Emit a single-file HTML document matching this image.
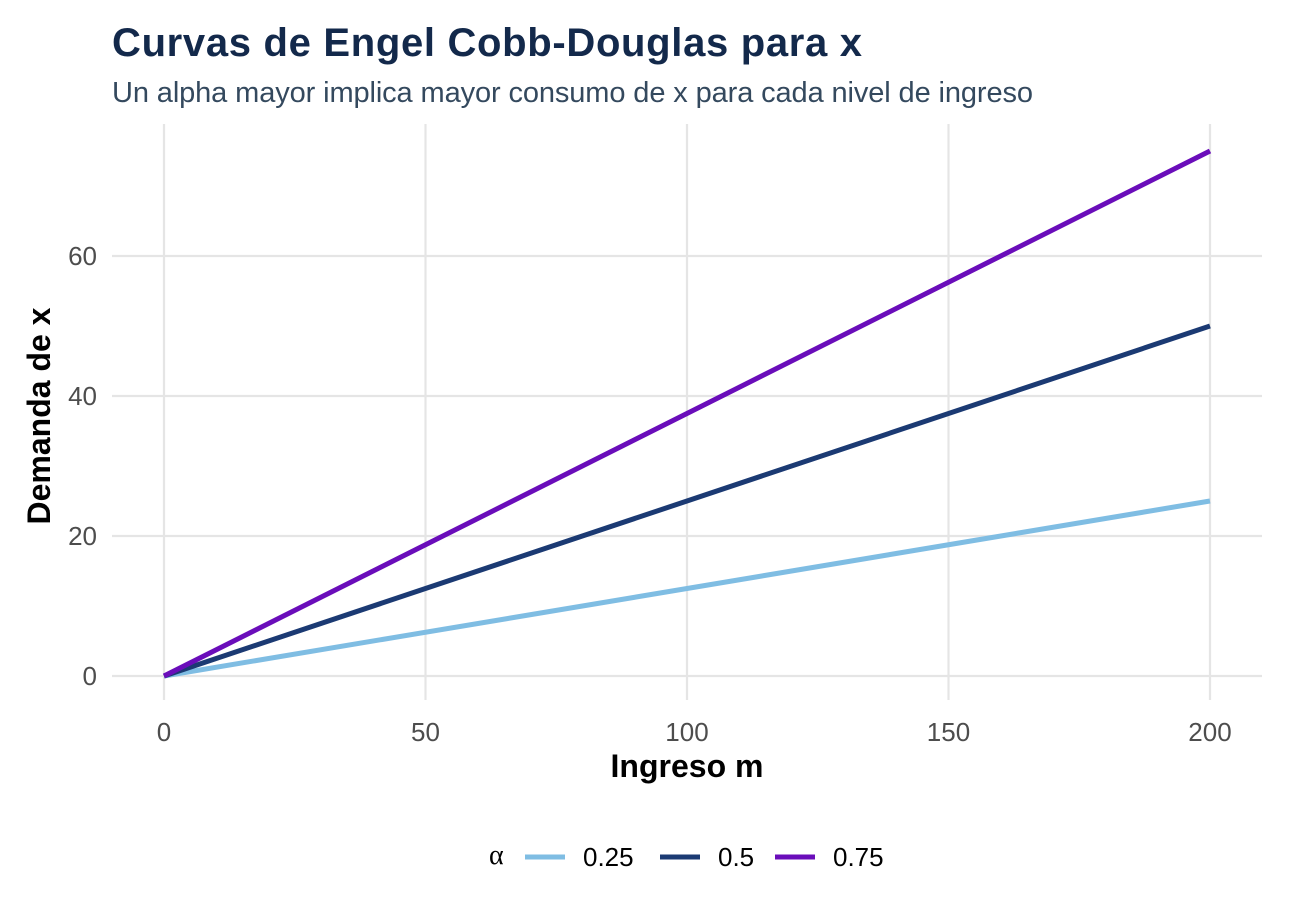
<!DOCTYPE html>
<html><head><meta charset="utf-8"><style>
body{margin:0;background:#fff;}
svg{display:block;font-family:"Liberation Sans",Arial,sans-serif;}
</style></head><body>
<svg id="chart" width="1305" height="921">
<text x="112" y="56" font-size="40" font-weight="bold" fill="#13294b" textLength="750">Curvas de Engel Cobb-Douglas para x</text>
<text x="112" y="102" font-size="29" fill="#34495e" textLength="921">Un alpha mayor implica mayor consumo de x para cada nivel de ingreso</text>
<g id="grid"></g>
<g id="axes"></g>
<g id="lines"></g>
<text x="687" y="777" font-size="32" font-weight="bold" text-anchor="middle" fill="#000">Ingreso m</text>
<text transform="translate(50,416) rotate(-90)" font-size="32" font-weight="bold" text-anchor="middle" fill="#000">Demanda de x</text>
<g id="legend">
<text x="489" y="864" font-size="28" font-family="Liberation Serif,serif" fill="#000">α</text>
</g>
</svg>
<script>
const alphas=[0.25,0.5,0.75];
const labels=["0.25","0.5","0.75"];
const colors=["#7fbde3","#1b3a73","#6a0dba"];
const incomes=[0,200];
const xTicks=[0,50,100,150,200];
const yTicks=[0,20,40,60];
const NS="http://www.w3.org/2000/svg";
const xs=v=>164+v*(1210-164)/200;
const ys=v=>676-v*7;
function mk(tag,attrs,parent){const e=document.createElementNS(NS,tag);for(const k in attrs)e.setAttribute(k,attrs[k]);parent.appendChild(e);return e;}
const grid=document.getElementById('grid'),axes=document.getElementById('axes'),lines=document.getElementById('lines'),legend=document.getElementById('legend');
xTicks.forEach(t=>{
 const l=mk('line',{x1:xs(t),x2:xs(t),y1:124,y2:700,stroke:'#e5e5e5','stroke-width':2.2},grid);
 
 
 const tx=mk('text',{x:xs(t),y:741,'font-size':26,'text-anchor':'middle',fill:'#4d4d4d'},axes);
 tx.textContent=t;
 
 
});
yTicks.forEach(t=>{
 const l=mk('line',{x1:112,x2:1262,y1:ys(t),y2:ys(t),stroke:'#e5e5e5','stroke-width':2.2},grid);
 
 
 const tx=mk('text',{x:97,y:ys(t)+9,'font-size':26,'text-anchor':'end',fill:'#4d4d4d'},axes);
 tx.textContent=t;
 
 
});
alphas.forEach((a,i)=>{
 const pts=incomes.map(m=>xs(m)+','+ys(a*m/2)).join(' ');
 const p=mk('polyline',{points:pts,fill:'none',stroke:colors[i],'stroke-width':5},lines);
 
 
});
const lx=[525,660,775];
labels.forEach((lab,i)=>{
 const l=mk('line',{x1:lx[i],x2:lx[i]+40,y1:857,y2:857,stroke:colors[i],'stroke-width':5},legend);
 
 
 const t=mk('text',{x:lx[i]+58,y:866,'font-size':26,fill:'#000'},legend);
 t.textContent=lab;
 
 
});
</script>
</body></html>
